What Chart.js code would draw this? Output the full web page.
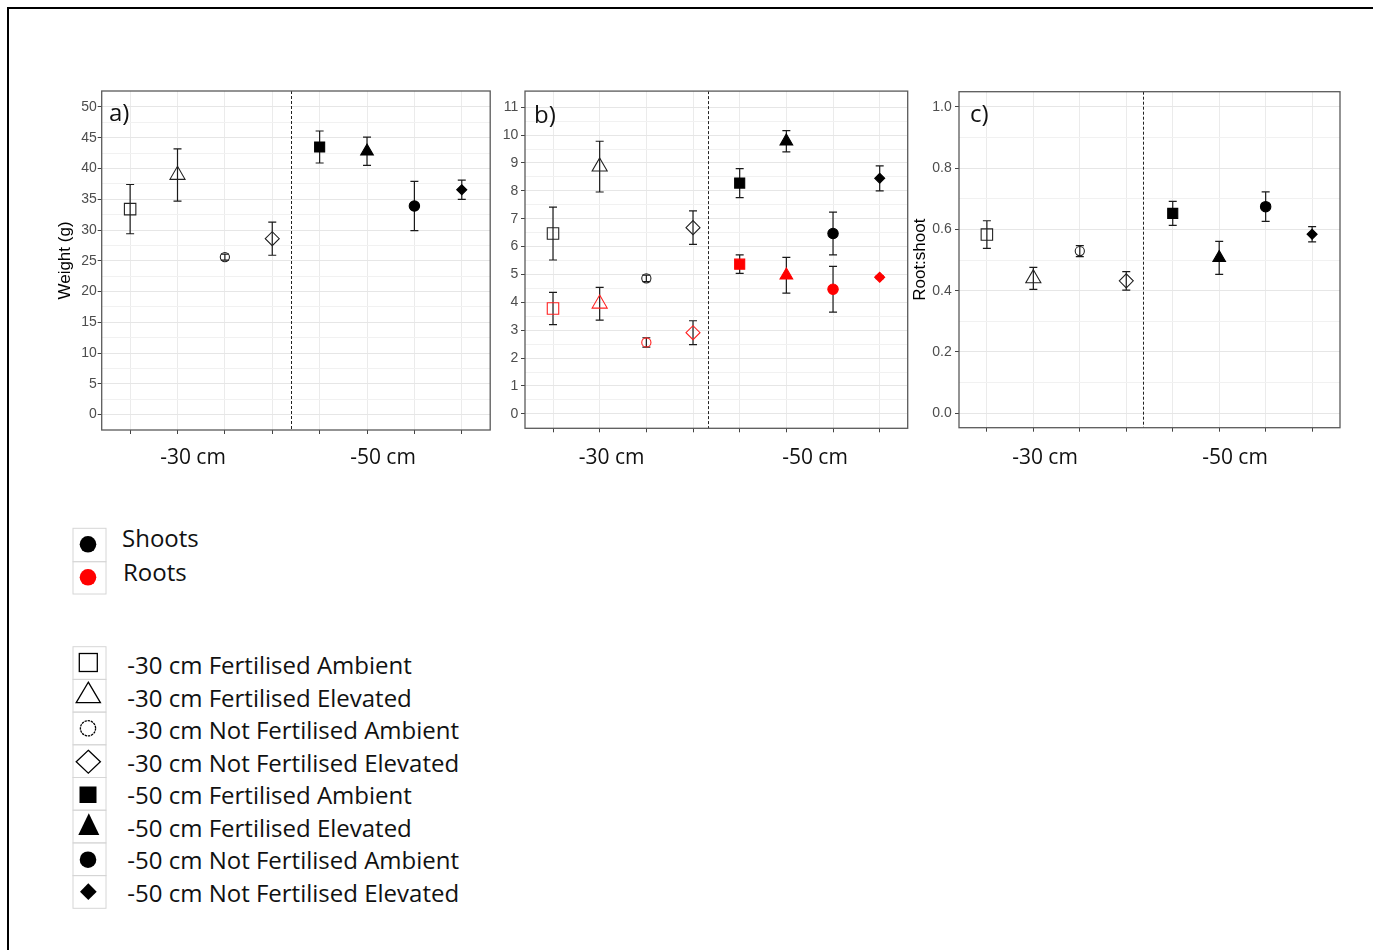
<!DOCTYPE html>
<html><head><meta charset="utf-8">
<script src="https://cdn.jsdelivr.net/npm/chart.js@4.4.1/dist/chart.umd.min.js"></script>
<style>
html,body{margin:0;padding:0;background:#fff;width:1373px;height:950px;overflow:hidden;position:relative}
.frame{position:absolute;left:7px;top:7px;width:1400px;height:1000px;border-top:2px solid #000;border-left:2px solid #000}
canvas{position:absolute}
.t{position:absolute;white-space:nowrap;font-family:'Open Sans','Noto Sans',sans-serif;color:#111}
#legendSvg{position:absolute;left:0;top:0;pointer-events:none}
</style></head>
<body>
<div class="frame"></div>
<canvas id="pa" width="460" height="370" style="left:40px;top:80px"></canvas>
<canvas id="pb" width="430" height="370" style="left:490px;top:80px"></canvas>
<canvas id="pc" width="460" height="370" style="left:900px;top:80px"></canvas>
<div id="texts"></div>
<svg id="legendSvg" width="1373" height="950"></svg>
<script>
// ---------- data ----------
const treatments = [
  '-30 cm Fertilised Ambient', '-30 cm Fertilised Elevated',
  '-30 cm Not Fertilised Ambient', '-30 cm Not Fertilised Elevated',
  '-50 cm Fertilised Ambient', '-50 cm Fertilised Elevated',
  '-50 cm Not Fertilised Ambient', '-50 cm Not Fertilised Elevated'
];
const depthLabels = ['-30 cm', '-50 cm'];
const panelLetters = ['a)', 'b)', 'c)'];
const tissueLabels = ['Shoots', 'Roots'];

const weightMean = [33.4, 38.95, 25.6, 28.6, 43.5, 42.8, 33.9, 36.55];
const weightSE   = [4.0, 4.25, 0.5, 2.7, 2.6, 2.3, 4.0, 1.55];

const shootMean = [6.47, 8.87, 4.86, 6.68, 8.28, 9.78, 6.47, 8.45];
const shootSE   = [0.95, 0.91, 0.12, 0.60, 0.52, 0.38, 0.77, 0.45];
const rootMean  = [3.78, 3.95, 2.56, 2.91, 5.37, 4.97, 4.47, 4.90];
const rootSE    = [0.58, 0.59, 0.17, 0.43, 0.33, 0.64, 0.82, 0.05];

const ratioMean = [0.583, 0.440, 0.529, 0.432, 0.652, 0.507, 0.674, 0.584];
const ratioSE   = [0.045, 0.036, 0.018, 0.030, 0.039, 0.054, 0.048, 0.025];

const yTicksA = [0, 5, 10, 15, 20, 25, 30, 35, 40, 45, 50];
const yTicksB = [0, 1, 2, 3, 4, 5, 6, 7, 8, 9, 10, 11];
const yTicksC = [0, 0.2, 0.4, 0.6, 0.8, 1.0];

// position of the dashed separator between the depth groups (x units)
const groupSplits = [4.40, 4.33, 4.36];

// ---------- styles ----------
const shapes = [
  {style: 'rect', r: 8.1, fill: false},
  {style: 'triangle', r: 8.7, fill: false},
  {style: 'circle', r: 4.6, fill: false},
  {style: 'rectRot', r: 7.0, fill: false},
  {style: 'rect', r: 7.1, fill: true},
  {style: 'triangle', r: 7.3, fill: true},
  {style: 'circle', r: 5.2, fill: true},
  {style: 'rectRot', r: 5.0, fill: true}
];

const decoPlugin = {
  id: 'deco',
  beforeDatasetsDraw(chart, args, opts) {
    const {ctx, chartArea: a, scales: {x, y}} = chart;
    ctx.save();
    ctx.strokeStyle = '#222';
    ctx.lineWidth = 1;
    ctx.setLineDash([3, 2]);
    const xd = Math.round(x.getPixelForValue(opts.split)) + 0.5;
    ctx.beginPath(); ctx.moveTo(xd, a.top); ctx.lineTo(xd, a.bottom); ctx.stroke();
    ctx.setLineDash([]);
    ctx.lineWidth = 1.2;
    ctx.strokeStyle = '#1a1a1a';
    chart.data.datasets.forEach(ds => {
      ds.data.forEach((p, i) => {
        const e = ds.err[i];
        const px = x.getPixelForValue(p.x);
        const yt = y.getPixelForValue(p.y + e);
        const yb = y.getPixelForValue(p.y - e);
        ctx.beginPath();
        ctx.moveTo(px, yt); ctx.lineTo(px, yb);
        ctx.moveTo(px - 4, yt); ctx.lineTo(px + 4, yt);
        ctx.moveTo(px - 4, yb); ctx.lineTo(px + 4, yb);
        ctx.stroke();
      });
    });
    ctx.restore();
  },
  afterDatasetsDraw(chart) {
    const {ctx, chartArea: a} = chart;
    ctx.save();
    ctx.strokeStyle = '#5a5a5a';
    ctx.lineWidth = 1.3;
    ctx.strokeRect(a.left, a.top, a.right - a.left, a.bottom - a.top);
    ctx.restore();
  }
};

function minorOf(ticks) {
  const out = [];
  for (let i = 0; i < ticks.length - 1; i++) out.push((ticks[i] + ticks[i + 1]) / 2);
  return out;
}

function makePanel(id, cfg) {
  const majors = cfg.ticks;
  const all = majors.concat(minorOf(majors)).sort((p, q) => p - q);
  const isMajor = v => majors.some(m => Math.abs(m - v) < 1e-9);
  const datasets = cfg.series.map(s => ({
    data: s.mean.map((v, i) => ({x: i + 1, y: v})),
    err: s.se,
    pointStyle: shapes.map(sh => sh.style),
    pointRadius: shapes.map(sh => sh.r),
    pointBackgroundColor: shapes.map(sh => sh.fill ? s.color : 'rgba(0,0,0,0)'),
    pointBorderColor: shapes.map(sh => sh.fill ? s.color : s.line),
    pointBorderWidth: 1.1,
    showLine: false
  }));
  return new Chart(document.getElementById(id), {
    type: 'scatter',
    data: {datasets},
    plugins: [decoPlugin],
    options: {
      responsive: false, animation: false, events: [],
      layout: {padding: {top: cfg.pt, right: cfg.pr, bottom: 0, left: 0}},
      plugins: {legend: {display: false}, tooltip: {enabled: false}, deco: {split: cfg.split}},
      scales: {
        x: {
          type: 'linear', min: 0.4, max: 8.6,
          afterBuildTicks: sc => { sc.ticks = treatments.map((_, i) => ({value: i + 1})); },
          afterFit: sc => { sc.height = cfg.xh; },
          ticks: {callback: () => '', autoSkip: false, maxRotation: 0},
          grid: {color: '#EBEBEB', lineWidth: 1, tickLength: 4, tickColor: '#444', tickWidth: 1},
          border: {display: false}
        },
        y: {
          type: 'linear', min: cfg.min, max: cfg.max,
          afterBuildTicks: sc => { sc.ticks = all.map(v => ({value: v})); },
          afterFit: sc => { sc.width = cfg.yw; },
          ticks: {
            autoSkip: false,
            callback: v => isMajor(v) ? v.toFixed(cfg.dec) : '',
            font: {family: 'Liberation Sans', size: 14},
            color: '#4d4d4d',
            padding: cfg.tp
          },
          grid: {
            color: c => isMajor(c.tick.value) ? '#E6E6E6' : '#F1F1F1',
            lineWidth: 1, tickLength: 4,
            tickColor: c => isMajor(c.tick.value) ? '#444' : 'rgba(0,0,0,0)'
          },
          border: {display: false},
          title: {
            display: !!cfg.title, text: cfg.title || '',
            font: {family: 'Liberation Sans', size: 17}, color: '#000',
            padding: {top: cfg.titlePad || 0, bottom: 0}
          }
        }
      }
    }
  });
}

makePanel('pa', {
  series: [{mean: weightMean, se: weightSE, color: '#000', line: '#222'}],
  ticks: yTicksA, min: -2.5, max: 52.6, dec: 0, split: groupSplits[0],
  pt: 11, pr: 8, xh: 20, yw: 61.7, tp: 1, title: 'Weight (g)', titlePad: 14.8
});
makePanel('pb', {
  series: [
    {mean: shootMean, se: shootSE, color: '#000', line: '#222'},
    {mean: rootMean, se: rootSE, color: '#FF0000', line: '#FF2020'}
  ],
  ticks: yTicksB, min: -0.52, max: 11.58, dec: 0, split: groupSplits[1],
  pt: 10, pr: 12.3, xh: 21.7, yw: 35, tp: 2.7
});
makePanel('pc', {
  series: [{mean: ratioMean, se: ratioSE, color: '#000', line: '#222'}],
  ticks: yTicksC, min: -0.047, max: 1.049, dec: 1, split: groupSplits[2],
  pt: 10, pr: 20, xh: 22.3, yw: 59, tp: 3.3, title: 'Root:shoot', titlePad: 9.8
});

// ---------- html texts ----------
const texts = document.getElementById('texts');
function addText(str, left, top, size, opts = {}) {
  const d = document.createElement('div');
  d.className = 't';
  d.textContent = str;
  d.style.left = left + 'px';
  d.style.top = top + 'px';
  d.style.fontSize = size + 'px';
  d.style.lineHeight = size + 'px';
  if (opts.width) { d.style.width = opts.width + 'px'; d.style.textAlign = 'center'; }
  texts.appendChild(d);
}
// panel letters
addText(panelLetters[0], 109, 100, 24);
addText(panelLetters[1], 534, 102, 24);
addText(panelLetters[2], 970, 101, 24);
// depth labels below each panel
const depthCenters = [[193, 383], [611.7, 815], [1045, 1235]];
depthCenters.forEach(pair => pair.forEach((c, k) => addText(depthLabels[k], c - 100, 446.4, 21, {width: 200})));
// legend texts
addText(tissueLabels[0], 122, 526.4, 24);
addText(tissueLabels[1], 123, 559.7, 24);
treatments.forEach((t, k) => addText(t, 127.3, 653.0 + 32.5 * k, 24));

// ---------- legend symbols ----------
const svg = document.getElementById('legendSvg');
const NS = 'http://www.w3.org/2000/svg';
function el(tag, attrs) {
  const e = document.createElementNS(NS, tag);
  for (const k in attrs) e.setAttribute(k, attrs[k]);
  svg.appendChild(e);
  return e;
}
// cells
[[528.3, 33.4], [561.7, 32.3]].forEach(([y, h]) =>
  el('rect', {x: 73, y: y, width: 33, height: h, fill: 'none', stroke: '#D6D6D6', 'stroke-width': 1}));
for (let k = 0; k < 8; k++)
  el('rect', {x: 73, y: 646.7 + 32.7 * k, width: 33, height: 32.7, fill: 'none', stroke: '#D6D6D6', 'stroke-width': 1});
// tissue colours
el('circle', {cx: 88, cy: 544.3, r: 8.3, fill: '#000'});
el('circle', {cx: 88, cy: 577.3, r: 8.3, fill: '#FF0000'});
// shape keys
const sw = 1.3;
el('rect', {x: 79.3, y: 653.5, width: 18, height: 18, fill: 'none', stroke: '#000', 'stroke-width': sw});
el('polygon', {points: '88.3,682.2 100.4,702.7 76.2,702.7', fill: 'none', stroke: '#000', 'stroke-width': sw});
el('circle', {cx: 88, cy: 728.3, r: 7.6, fill: 'none', stroke: '#000', 'stroke-width': sw, 'stroke-dasharray': '2.4 0.8'});
el('polygon', {points: '88.3,750.3 100.4,761.7 88.3,773.1 76.2,761.7', fill: 'none', stroke: '#000', 'stroke-width': sw});
el('rect', {x: 79.5, y: 786.5, width: 17, height: 16.5, fill: '#000'});
el('polygon', {points: '88.8,813.3 99.3,835 78.3,835', fill: '#000'});
el('circle', {cx: 88, cy: 859.7, r: 8.3, fill: '#000'});
el('polygon', {points: '88.3,883.3 96.7,891.7 88.3,900 80,891.7', fill: '#000'});
</script>
</body></html>
